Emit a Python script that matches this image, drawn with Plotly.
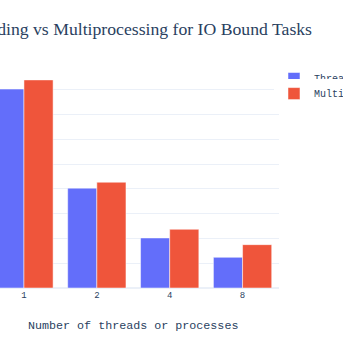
import plotly.graph_objects as go

categories = ["1", "2", "4", "8"]
threading_times = [8.03, 4.03, 2.02, 1.24]
multiprocessing_times = [8.40, 4.27, 2.37, 1.75]
series_names = ["Threading", "Multiprocessing"]
x_title = "Number of threads or processes"

mono = "Liberation Mono, DejaVu Sans Mono, monospace"
legend_font = dict(family=mono, size=10, color="#2a3f5f")

fig = go.Figure()
fig.add_trace(go.Bar(x=categories, y=threading_times, name=series_names[0],
                     marker_color="#636efa", legend="legend", showlegend=True))
fig.add_trace(go.Bar(x=categories, y=multiprocessing_times, name=series_names[1],
                     marker_color="#EF553B", legend="legend2", showlegend=True))

fig.update_layout(
    template="plotly_white",
    width=343, height=343,
    showlegend=True,
    margin=dict(l=0, r=64, t=69, b=55, autoexpand=False),
    barmode="group",
    title=dict(text="Threading vs Multiprocessing for IO Bound Tasks",
               font=dict(family="Liberation Serif, DejaVu Serif, serif", size=17.7, color="#2a3f5f"),
               x=312/343, xanchor="right", xref="container",
               y=1-29/343, yanchor="middle", yref="container"),
    legend=dict(x=0.982, xanchor="left", y=1.0228, yanchor="top", font=legend_font),
    legend2=dict(x=0.982, xanchor="left", y=0.954, yanchor="top", font=legend_font),
    font=dict(family=mono, color="#2a3f5f"),
    xaxis=dict(type="category", range=[-0.5 + 12.5/73, 3.5], automargin=False,
               tickfont=dict(family=mono, size=9)),
    yaxis=dict(range=[0, 8.84], dtick=1, showticklabels=False, automargin=False),
    annotations=[dict(text=x_title, xref="paper", yref="paper",
                      x=133/279, xanchor="center", y=-(326-288)/219, yanchor="middle",
                      showarrow=False, font=dict(family=mono, size=11.7, color="#2a3f5f"))],
)

fig.write_html("out.html")
